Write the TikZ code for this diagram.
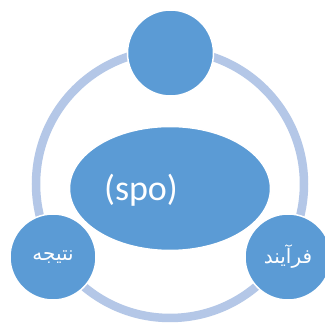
\documentclass[tikz,border=0pt]{standalone}
\usepackage{fontspec}
\setmainfont{Carlito}
\newfontfamily\arabicfont[Script=Arabic]{DejaVu Sans}
\TeXXeTstate=1
\usetikzlibrary{shapes.geometric}
\definecolor{bluefill}{RGB}{91,155,213}
\definecolor{ringblue}{RGB}{180,199,231}
\tikzset{
  ringline/.style={draw=ringblue, line width=8.5pt},
  bubble/.style={circle, fill=bluefill, draw=white, line width=1.5pt, minimum size=86pt, inner sep=0pt, text=white, font=\arabicfont\fontsize{20}{24}\selectfont},
  core/.style={ellipse, fill=bluefill, draw=white, line width=1.5pt, minimum width=201pt, minimum height=124pt, inner sep=0pt},
  coretext/.style={text=white, font=\fontsize{36}{40}\selectfont, inner sep=0pt}
}
\begin{document}
\begin{tikzpicture}[x=1pt,y=-1pt]
\useasboundingbox (0,0) rectangle (325,323);
\fill[white] (0,0) rectangle (325,323);
\coordinate (ringc) at (170,184);
\draw[ringline] (ringc) circle (134);
\node[core] (center) at (170,188.5) {};
\node[coretext] (spo) at (141,190) {(spo)};
\node[bubble] (top) at (170.5,53) {};
\node[bubble] (left) at (53,257) {\beginR نتیجه\endR};
\node[bubble] (right) at (288,257) {\beginR فرآیند\endR};
\end{tikzpicture}
\end{document}
